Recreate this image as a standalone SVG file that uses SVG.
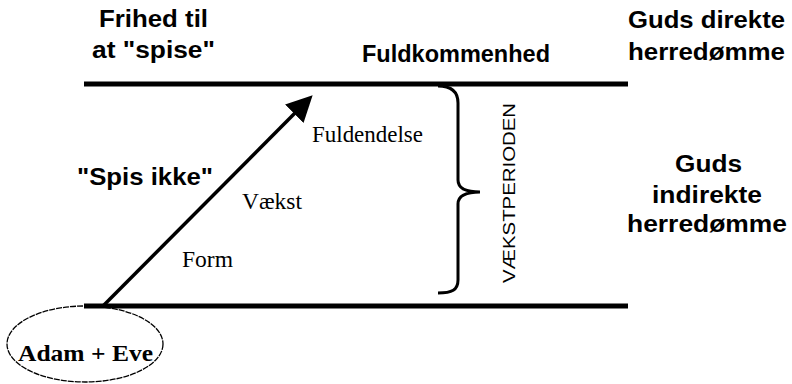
<svg xmlns="http://www.w3.org/2000/svg" width="792" height="384" viewBox="0 0 792 384">
<style>
.bs{font-family:"Liberation Sans",Arial,sans-serif;font-weight:bold;font-size:23px;fill:#000}
.sr{font-family:"Liberation Serif","Times New Roman",serif;font-size:23px;fill:#000}
.sn{font-family:"Liberation Sans",Arial,sans-serif;font-size:16px;fill:#000}
.bar{stroke:#000;stroke-width:5;fill:none}
</style>
<defs>
<marker id="ah" viewBox="0 0 26 26" markerWidth="26" markerHeight="26" markerUnits="userSpaceOnUse" refX="1" refY="13" orient="auto">
<path d="M0,0 L26,13 L0,26 z" fill="#000"/>
</marker>
</defs>
<rect width="792" height="384" fill="#fff"/>
<g id="connectors">
<line class="bar" x1="84" y1="84" x2="628" y2="84"/>
<line class="bar" x1="84" y1="306" x2="628" y2="306"/>
<line x1="103" y1="306" x2="295" y2="113" stroke="#000" stroke-width="3.5" marker-end="url(#ah)"/>
<path id="brace" d="M438,86 C452,86 458,92 458,103 L458,180 C458,188 466,192 480,192 C466,192 458,196 458,204 L458,280 C458,290 452,293 438,293" fill="none" stroke="#000" stroke-width="3"/>
</g>
<g id="adam-eve">
<ellipse cx="85" cy="344" rx="78" ry="38" fill="none" stroke="#000" stroke-width="1.3" stroke-dasharray="6,1"/>
<text class="sr" x="18" y="361" font-weight="bold" font-size="24" textLength="135" lengthAdjust="spacingAndGlyphs">Adam + Eve</text>
</g>
<g id="frihed">
<text class="bs" x="99" y="27" textLength="109" lengthAdjust="spacingAndGlyphs">Frihed til</text>
<text class="bs" x="92" y="58" textLength="123" lengthAdjust="spacingAndGlyphs">at "spise"</text>
</g>
<g id="fuldkommenhed">
<text class="bs" x="362" y="62" textLength="188" lengthAdjust="spacingAndGlyphs">Fuldkommenhed</text>
</g>
<g id="guds-direkte">
<text class="bs" x="628" y="28" textLength="157" lengthAdjust="spacingAndGlyphs">Guds direkte</text>
<text class="bs" x="628" y="60" textLength="157" lengthAdjust="spacingAndGlyphs">herredømme</text>
</g>
<g id="spis-ikke">
<text class="bs" x="77" y="185" textLength="136" lengthAdjust="spacingAndGlyphs">"Spis ikke"</text>
</g>
<g id="fuldendelse">
<text class="sr" x="312" y="142" textLength="111" lengthAdjust="spacingAndGlyphs">Fuldendelse</text>
</g>
<g id="vaekst">
<text class="sr" x="242" y="209" textLength="60" lengthAdjust="spacingAndGlyphs">Vækst</text>
</g>
<g id="form">
<text class="sr" x="182" y="267" textLength="51" lengthAdjust="spacingAndGlyphs">Form</text>
</g>
<g id="vaekstperioden">
<text class="sn" transform="translate(515,283) rotate(-90)" x="0" y="0" textLength="180" lengthAdjust="spacingAndGlyphs">VÆKSTPERIODEN</text>
</g>
<g id="guds-indirekte">
<text class="bs" x="675" y="172" textLength="67" lengthAdjust="spacingAndGlyphs">Guds</text>
<text class="bs" x="652" y="203" textLength="110" lengthAdjust="spacingAndGlyphs">indirekte</text>
<text class="bs" x="627" y="232" textLength="160" lengthAdjust="spacingAndGlyphs">herredømme</text>
</g>
</svg>
